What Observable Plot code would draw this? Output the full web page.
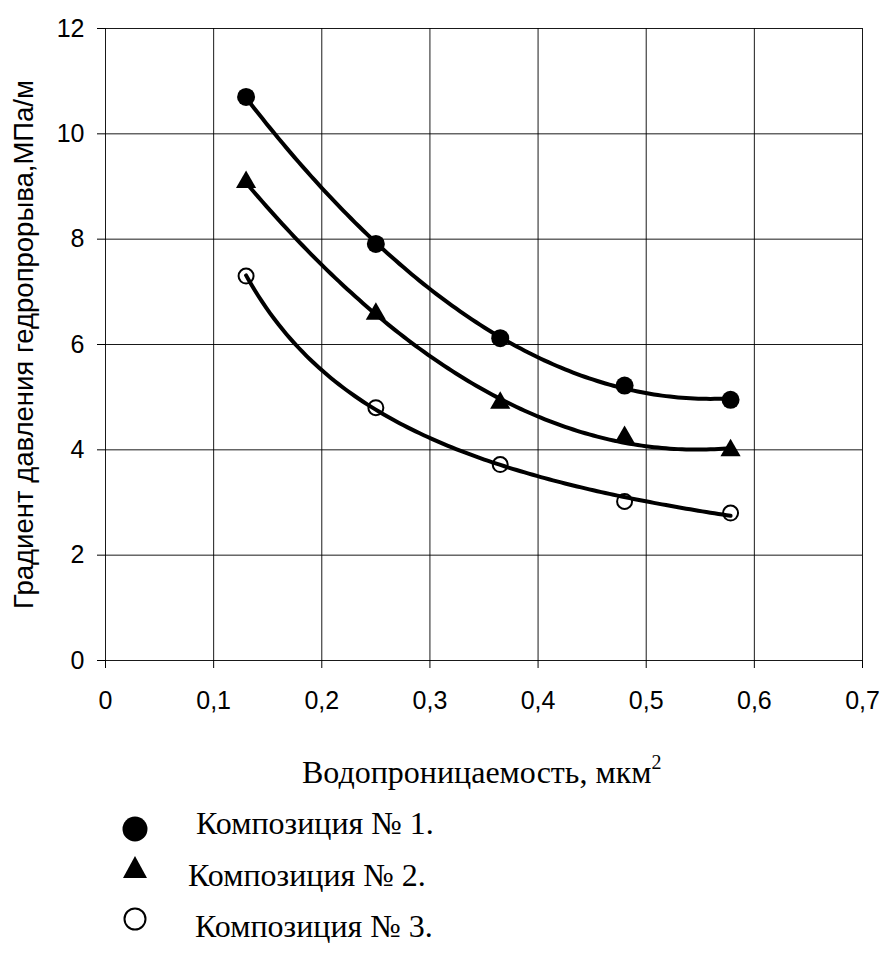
<!DOCTYPE html>
<html>
<head>
<meta charset="utf-8">
<script src="https://cdn.jsdelivr.net/npm/d3@7"></script>
<script src="https://cdn.jsdelivr.net/npm/@observablehq/plot@0.6"></script>
<style>
  body { margin: 0; background: #fff; }
  #wrap { position: relative; width: 884px; height: 967px; background: #fff; overflow: hidden; }
  #wrap svg.chart { position: absolute; left: 0; top: 0; display: block; }
  .serif { position: absolute; white-space: nowrap; font-family: "Liberation Serif", "Times New Roman", serif; font-size: 32px; line-height: 32px; color: #000; }
  .serif sup { font-size: 20px; line-height: 0; position: relative; top: -2px; vertical-align: super; }
  svg.sym { position: absolute; left: 0; top: 0; overflow: visible; }
</style>
</head>
<body>
<div id="wrap"></div>
<script>
// ---- data ----
const xVals = [0.13, 0.25, 0.365, 0.48, 0.578];
const comp1 = [10.70, 7.91, 6.12, 5.22, 4.95];   // filled circles
const comp2 = [9.08, 6.58, 4.89, 4.24, 3.99];    // filled triangles
const comp3 = [7.30, 4.80, 3.72, 3.02, 2.80];    // open circles
const seriesNames = ["Композиция № 1.", "Композиция № 2.", "Композиция № 3."];
const xTicks = [0, 0.1, 0.2, 0.3, 0.4, 0.5, 0.6, 0.7];
const xTickLabels = ["0", "0,1", "0,2", "0,3", "0,4", "0,5", "0,6", "0,7"];
const yTicks = [0, 2, 4, 6, 8, 10, 12];
const xTitle = "Водопроницаемость, мкм";
const xTitleSup = "2";
const yTitle = "Градиент давления гедропрорыва,МПа/м";

// ---- trend lines (least-squares fits of the data, like the original spreadsheet trendlines) ----
function quadFit(xs, ys) {
  const S = [0, 0, 0, 0, 0], T = [0, 0, 0];
  xs.forEach((x, i) => {
    for (let k = 0; k < 5; k++) S[k] += Math.pow(x, k);
    for (let k = 0; k < 3; k++) T[k] += ys[i] * Math.pow(x, k);
  });
  const A = [[S[0], S[1], S[2], T[0]], [S[1], S[2], S[3], T[1]], [S[2], S[3], S[4], T[2]]];
  for (let c = 0; c < 3; c++) {
    for (let r = c + 1; r < 3; r++) {
      const f = A[r][c] / A[c][c];
      for (let k = c; k < 4; k++) A[r][k] -= f * A[c][k];
    }
  }
  const coef = [0, 0, 0];
  for (let r = 2; r >= 0; r--) {
    let s = A[r][3];
    for (let k = r + 1; k < 3; k++) s -= A[r][k] * coef[k];
    coef[r] = s / A[r][r];
  }
  return x => coef[0] + coef[1] * x + coef[2] * x * x;
}
function powerFit(xs, ys) {
  const lx = xs.map(Math.log), ly = ys.map(Math.log);
  const mx = d3.mean(lx), my = d3.mean(ly);
  const b = d3.sum(lx, (v, i) => (v - mx) * (ly[i] - my)) / d3.sum(lx, v => (v - mx) ** 2);
  const a = my - b * mx;
  return x => Math.exp(a + b * Math.log(x));
}
const fits = [quadFit(xVals, comp1), quadFit(xVals, comp2), powerFit(xVals, comp3)];
const [xMin, xMax] = d3.extent(xVals);
const trend = [];
fits.forEach((f, s) => {
  for (let i = 0; i <= 120; i++) {
    const x = xMin + (xMax - xMin) * i / 120;
    trend.push({series: seriesNames[s], x, y: f(x)});
  }
});
const pts = (ys) => xVals.map((x, i) => ({x, y: ys[i]}));

const chart = Plot.plot({
  width: 884,
  height: 720,
  marginLeft: 105,
  marginRight: 22,
  marginTop: 28,
  marginBottom: 60,
  x: {domain: [0, 0.7]},
  y: {domain: [0, 12]},
  style: {fontFamily: "'Liberation Sans', Arial, sans-serif", fontSize: "25px", color: "#000", background: "#fff"},
  marks: [
    Plot.gridX(xTicks, {stroke: "#000", strokeOpacity: 0.9, strokeWidth: 1}),
    Plot.gridY(yTicks, {stroke: "#000", strokeOpacity: 0.9, strokeWidth: 1}),
    Plot.axisX({
      ticks: xTicks,
      tickFormat: d => xTickLabels[xTicks.findIndex(t => Math.abs(t - d) < 1e-9)],
      tickSize: 8, tickPadding: 23, label: null, fontSize: 25, stroke: "#000"
    }),
    Plot.axisY({
      ticks: yTicks, tickSize: 8, tickPadding: 13, fontSize: 25, stroke: "#000", label: null
    }),
    Plot.axisY({
      ticks: [], tickSize: 0, fontSize: 27.5,
      label: yTitle, labelAnchor: "center", labelOffset: 92, labelArrow: "none"
    }),
    Plot.line(trend, {x: "x", y: "y", z: "series", stroke: "#000", strokeWidth: 4}),
    Plot.dot(pts(comp1), {x: "x", y: "y", r: 9, fill: "#000", symbol: "circle"}),
    Plot.dot(pts(comp2), {x: "x", y: "y", r: 7.5, fill: "#000", symbol: "triangle"}),
    Plot.dot(pts(comp3), {x: "x", y: "y", r: 7.5, fill: "none", stroke: "#000", strokeWidth: 2, symbol: "circle"})
  ]
});
chart.classList.add("chart");
const wrap = document.getElementById("wrap");
wrap.appendChild(chart);

// ---- x-axis title (below the SVG) ----
const xt = document.createElement("div");
xt.className = "serif";
xt.style.left = "302px";
xt.style.top = "756px";
xt.textContent = xTitle;
const sup = document.createElement("sup");
sup.textContent = xTitleSup;
xt.appendChild(sup);
wrap.appendChild(xt);

// ---- legend (below the SVG) ----
const legendRows = [
  {name: seriesNames[0], textLeft: 196, baseline: 834, cy: 829, kind: "dot"},
  {name: seriesNames[1], textLeft: 188, baseline: 886, cy: 867, kind: "tri"},
  {name: seriesNames[2], textLeft: 195, baseline: 937, cy: 919, kind: "ring"}
];
const symSvg = d3.select(wrap).append("svg").attr("class", "sym").attr("width", 884).attr("height", 967);
legendRows.forEach(r => {
  if (r.kind === "dot") symSvg.append("circle").attr("cx", 135).attr("cy", r.cy).attr("r", 12.5).attr("fill", "#000");
  if (r.kind === "tri") symSvg.append("path").attr("d", `M123,${r.cy + 11}L147,${r.cy + 11}L135,${r.cy - 11}Z`).attr("fill", "#000");
  if (r.kind === "ring") symSvg.append("circle").attr("cx", 135).attr("cy", r.cy).attr("r", 10.5).attr("fill", "none").attr("stroke", "#000").attr("stroke-width", 2);
  const t = document.createElement("div");
  t.className = "serif";
  t.style.left = r.textLeft + "px";
  t.style.top = (r.baseline - 27) + "px";
  t.textContent = r.name;
  wrap.appendChild(t);
});
</script>
</body>
</html>
